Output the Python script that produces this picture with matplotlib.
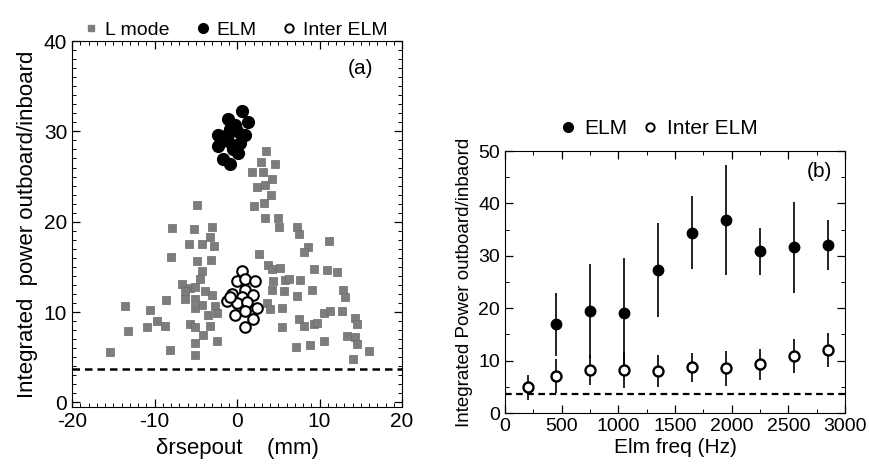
import matplotlib
matplotlib.use("Agg")
import matplotlib.pyplot as plt
from matplotlib.ticker import MultipleLocator
from matplotlib.lines import Line2D

plt.rcParams['font.family'] = ['Liberation Sans', 'DejaVu Sans']
plt.rcParams['axes.unicode_minus'] = False

# ---------------- Panel (a) data ----------------
lmode_x = [-4.88, -7.84, -5.21, -2.98, -3.27, -5.78, -4.20, -2.78, -8.0, -4.80, -3.18, -4.28,
           -4.48, -6.63, -5.70, -5.09, -6.30, -3.87, -3.06, -6.30, -5.09, -8.65, -13.6, -10.55,
           -4.28, -2.66, -5.09, -3.47, -2.46, -9.74, -10.95, -8.73, -13.2, -5.70, -5.09, -3.27,
           -4.08, -5.09, -2.46, -8.12, -15.4, -5.09,
           3.53, 2.93, 4.55, 1.79, 3.13, 4.22, 2.40, 3.33, 4.10, 2.0, 3.21, 3.33, 4.95, 5.03,
           7.26, 7.54, 11.2, 8.6, 8.15, 2.72, 3.81, 5.23, 4.22, 9.28, 10.9, 12.1, 4.42, 5.84,
           6.24, 7.66, 4.22, 5.64, 7.26, 9.08, 12.9, 13.1, 3.62, 5.44, 10.5, 11.3, 12.7, 4.02,
           7.46, 8.06, 9.28, 9.69, 5.51, 14.3, 14.5, 13.3, 14.3, 14.5, 10.5, 8.88, 7.18, 16.0,
           14.1]
lmode_y = [21.8, 19.3, 19.2, 19.4, 18.3, 17.5, 17.5, 17.3, 16.1, 15.7, 15.8, 14.5,
           13.7, 13.1, 12.7, 12.8, 12.3, 12.3, 11.9, 11.4, 11.4, 11.3, 10.7, 10.2,
           10.8, 10.7, 10.5, 9.7, 9.9, 9.0, 8.3, 8.5, 7.9, 8.7, 8.3, 8.5,
           7.5, 6.6, 6.8, 5.8, 5.6, 5.2,
           27.8, 26.6, 26.4, 25.5, 25.5, 24.7, 23.8, 24.1, 23.0, 21.7, 22.1, 20.4, 20.4, 19.4,
           19.4, 18.6, 17.9, 17.2, 16.7, 16.4, 15.2, 14.9, 14.8, 14.8, 14.7, 14.4, 13.4, 13.5,
           13.7, 13.6, 12.5, 12.3, 11.8, 12.5, 12.5, 11.7, 11.0, 10.5, 9.9, 10.1, 10.1, 10.3,
           9.2, 8.5, 8.7, 8.8, 8.4, 9.3, 8.7, 7.4, 7.2, 6.5, 6.8, 6.4, 6.1, 5.7,
           4.8]

elm_a_x = [0.57, -1.04, 1.39, -2.26, -0.84, 0.98, -0.03, -2.26, 0.38, -1.04, 0.17, -1.65,
           -0.84, -0.43, -1.24, -0.23]
elm_a_y = [32.2, 31.4, 31.0, 29.6, 30.3, 29.6, 30.0, 28.4, 28.7, 28.9, 27.6, 26.9,
           26.4, 28.1, 29.6, 30.7]

inter_a_x = [0.57, -0.03, 0.98, 2.2, 0.98, -0.63, 0.57, 1.99, -1.24, -0.03, 1.19, 2.4,
             -0.23, 0.98, 1.99, 0.98, -0.84]
inter_a_y = [14.6, 13.4, 13.7, 13.4, 12.5, 12.0, 11.7, 11.9, 11.2, 11.0, 11.1, 10.5,
             9.7, 10.1, 9.2, 8.4, 11.7]

threshold = 3.7

# ---------------- Panel (b) data ----------------
elm_freq = [450, 750, 1050, 1350, 1650, 1950, 2250, 2550, 2850]
elm_val = [16.9, 19.5, 19.0, 27.3, 34.4, 36.8, 30.9, 31.6, 32.0]
elm_err = [6.0, 9.0, 10.6, 8.9, 7.0, 10.5, 4.5, 8.6, 4.8]

inter_freq = [200, 450, 750, 1050, 1350, 1650, 1950, 2250, 2550, 2850]
inter_val = [4.9, 7.1, 8.2, 8.2, 8.0, 8.7, 8.5, 9.3, 10.9, 12.0]
inter_err = [2.4, 3.3, 2.8, 3.5, 3.1, 2.8, 3.4, 3.0, 3.2, 3.3]

fig = plt.figure(figsize=(8.7, 4.66), dpi=100)

# ---------------- Panel (a) ----------------
ax1 = fig.add_axes([0.0828, 0.1266, 0.3793, 0.7854])
ax1.axhline(threshold, color='black', linestyle=(0, (3, 2)), linewidth=1.8, zorder=1)
ax1.scatter(lmode_x, lmode_y, marker='s', s=27, color='#7d7d7d', edgecolors='#6a6a6a',
            linewidths=0.5, zorder=2, label='L mode')
ax1.scatter(elm_a_x, elm_a_y, marker='o', s=72, color='black', zorder=3, label='ELM')
ax1.scatter(inter_a_x, inter_a_y, marker='o', s=58, facecolors='white', edgecolors='black',
            linewidths=1.5, zorder=4, label='Inter ELM')
ax1.set_xlim(-20, 20)
ax1.set_ylim(-0.5, 40)
ax1.set_xticks([-20, -10, 0, 10, 20])
ax1.set_yticks([0, 10, 20, 30, 40])
ax1.xaxis.set_minor_locator(MultipleLocator(1))
ax1.yaxis.set_minor_locator(MultipleLocator(1))
ax1.tick_params(which='both', direction='in', top=True, right=True, labelsize=15)
ax1.tick_params(which='major', length=6, width=0.9)
ax1.tick_params(which='minor', length=3, width=0.7)
ax1.set_xlabel('δrsepout    (mm)', fontsize=16, labelpad=5)
ax1.set_ylabel('Integrated  power outboard/inboard', fontsize=16, labelpad=4)
ax1.text(0.873, 0.925, '(a)', transform=ax1.transAxes, fontsize=15, ha='center', va='center')

handles_a = [
    Line2D([], [], marker='s', linestyle='none', color='#7d7d7d', markersize=5),
    Line2D([], [], marker='o', linestyle='none', color='black', markersize=7),
    Line2D([], [], marker='o', linestyle='none', markerfacecolor='white',
           markeredgecolor='black', markeredgewidth=1.4, markersize=6),
]
ax1.legend(handles_a, ['L mode', 'ELM', 'Inter ELM'], ncol=3, frameon=False, fontsize=14,
           loc='lower left', bbox_to_anchor=(0.035, 1.0), handlelength=0.6, handletextpad=0.4,
           columnspacing=1.4, borderaxespad=0.0, borderpad=0.1)

# ---------------- Panel (b) ----------------
ax2 = fig.add_axes([0.5805, 0.1137, 0.3908, 0.5622])
ax2.axhline(threshold, color='black', linestyle=(0, (3, 2)), linewidth=1.6, zorder=1)
ax2.errorbar(elm_freq, elm_val, yerr=elm_err, fmt='o', color='black', markersize=7.5,
             elinewidth=1.2, capsize=0, zorder=3, label='ELM')
ax2.errorbar(inter_freq, inter_val, yerr=inter_err, fmt='o', color='black',
             markerfacecolor='white', markeredgecolor='black', markeredgewidth=1.7,
             markersize=7.2, elinewidth=1.2, capsize=0, zorder=4, label='Inter ELM')
ax2.set_xlim(0, 3000)
ax2.set_ylim(0, 50)
ax2.set_xticks([0, 500, 1000, 1500, 2000, 2500, 3000])
ax2.set_yticks([0, 10, 20, 30, 40, 50])
ax2.xaxis.set_minor_locator(MultipleLocator(250))
ax2.yaxis.set_minor_locator(MultipleLocator(5))
ax2.tick_params(which='both', direction='in', top=True, right=True, labelsize=14)
ax2.tick_params(which='major', length=6, width=0.9)
ax2.tick_params(which='minor', length=3, width=0.7)
ax2.set_xlabel('Elm freq (Hz)', fontsize=15, labelpad=2)
ax2.set_ylabel('Integrated Power outboard/inbaord', fontsize=13.5, labelpad=4)
ax2.text(0.926, 0.92, '(b)', transform=ax2.transAxes, fontsize=15, ha='center', va='center')

handles_b = [
    Line2D([], [], marker='o', linestyle='none', color='black', markersize=7),
    Line2D([], [], marker='o', linestyle='none', markerfacecolor='white',
           markeredgecolor='black', markeredgewidth=1.4, markersize=6),
]
ax2.legend(handles_b, ['ELM', 'Inter ELM'], ncol=2, frameon=False, fontsize=15,
           loc='lower left', bbox_to_anchor=(0.16, 1.04), handlelength=0.6, handletextpad=0.5,
           columnspacing=0.8, borderaxespad=0.0, borderpad=0.1)

fig.savefig('out.png', dpi=100)
